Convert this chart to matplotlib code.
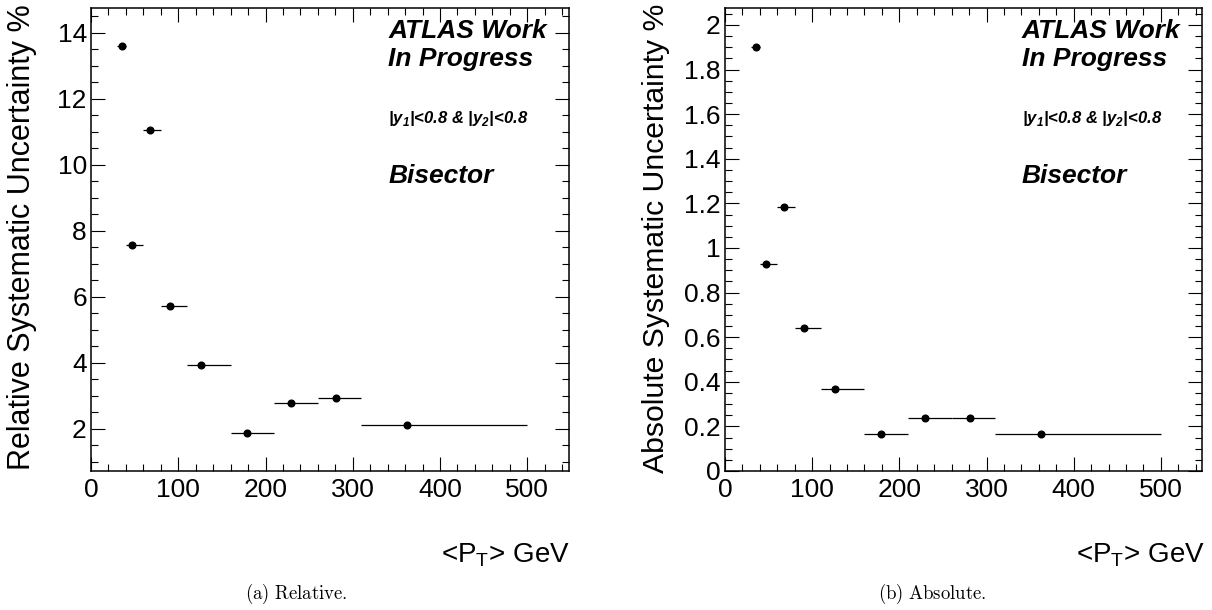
import numpy as np
import matplotlib
matplotlib.use('Agg')
import matplotlib.pyplot as plt
from matplotlib.ticker import MultipleLocator, FuncFormatter

plt.rcParams['font.family'] = ['Liberation Sans', 'DejaVu Sans']
plt.rcParams['mathtext.fontset'] = 'custom'
plt.rcParams['mathtext.rm'] = 'Liberation Sans'
plt.rcParams['mathtext.bf'] = 'Liberation Sans:bold:italic'

# mean pT of each bin and the bin edges (GeV)
pt_mean = [35.3, 47.0, 67.2, 90.5, 126.6, 178.4, 229.6, 280.7, 362.3]
bin_lo = [30, 40, 60, 80, 110, 160, 210, 260, 310]
bin_hi = [40, 60, 80, 110, 160, 210, 260, 310, 500]

# systematic uncertainty, %
rel_unc = [13.59, 7.57, 11.05, 5.73, 3.94, 1.88, 2.77, 2.94, 2.12]
abs_unc = [1.903, 0.928, 1.183, 0.641, 0.369, 0.166, 0.236, 0.239, 0.166]

ylabels = ['Relative Systematic Uncertainty %', 'Absolute Systematic Uncertainty %']
captions = ['(a) Relative.', '(b) Absolute.']

W, H = 1212, 610
fig = plt.figure(figsize=(W / 100, H / 100), dpi=100)

ax_left = fig.add_axes([91 / W, 1 - 471 / H, 477.7 / W, 463 / H])
ax_right = fig.add_axes([725 / W, 1 - 471 / H, 477.3 / W, 463 / H])

xerr = [np.array(pt_mean) - np.array(bin_lo), np.array(bin_hi) - np.array(pt_mean)]


def style_axis(ax, ymin, ymax, ymajor, yminor):
    ax.set_xlim(0, 547.5)
    ax.set_ylim(ymin, ymax)
    ax.xaxis.set_major_locator(MultipleLocator(100))
    ax.xaxis.set_minor_locator(MultipleLocator(20))
    ax.yaxis.set_major_locator(MultipleLocator(ymajor))
    ax.yaxis.set_minor_locator(MultipleLocator(yminor))
    ax.yaxis.set_major_formatter(FuncFormatter(lambda v, p: f'{v:g}'))
    ax.tick_params(which='both', direction='in', top=True, right=True,
                   labelsize=19, width=0.8)
    ax.tick_params(which='major', length=10)
    ax.tick_params(which='minor', length=4.8)
    ax.tick_params(axis='x', pad=5)
    ax.tick_params(axis='y', pad=3)
    for s in ax.spines.values():
        s.set_linewidth(1.1)


for ax, vals in [(ax_left, rel_unc), (ax_right, abs_unc)]:
    ax.errorbar(pt_mean, vals, xerr=xerr, fmt='o', color='black',
                markersize=4.8, elinewidth=0.9, capsize=0)
    ax.text(0.622, 0.95, 'ATLAS Work', transform=ax.transAxes, fontsize=19,
            fontweight='bold', style='italic', va='center', ha='left')
    ax.text(0.622, 0.89, 'In Progress', transform=ax.transAxes, fontsize=19,
            fontweight='bold', style='italic', va='center', ha='left')
    ax.text(0.622, 0.762, r'|y$_{\mathbf{1}}$|<0.8 & |y$_{\mathbf{2}}$|<0.8',
            transform=ax.transAxes, fontsize=12, fontweight='bold', style='italic',
            va='center', ha='left')
    ax.text(0.622, 0.637, 'Bisector', transform=ax.transAxes, fontsize=19,
            fontweight='bold', style='italic', va='center', ha='left')

style_axis(ax_left, 0.72, 14.75, 2, 0.5)
style_axis(ax_right, 0, 2.076, 0.2, 0.05)

# axis titles, ROOT style (right / top aligned)
fig.text(22 / W, 1 - 4 / H, ylabels[0], rotation=90, ha='center', va='top', fontsize=22)
fig.text(656 / W, 1 - 4 / H, ylabels[1], rotation=90, ha='center', va='top', fontsize=21.7)
fig.text(570 / W, 1 - 555 / H, r'<P$_{\mathrm{T}}$> GeV', ha='right', va='center', fontsize=20)
fig.text(1205 / W, 1 - 555 / H, r'<P$_{\mathrm{T}}$> GeV', ha='right', va='center', fontsize=20)

# captions below each panel
fig.text(296 / W, 1 - 594 / H, r'$\mathrm{(a)\ Relative.}$', ha='center', va='center',
         fontsize=13.5, math_fontfamily='cm')
fig.text(932 / W, 1 - 594 / H, r'$\mathrm{(b)\ Absolute.}$', ha='center', va='center',
         fontsize=13.5, math_fontfamily='cm')

fig.savefig('out.png', dpi=100)
